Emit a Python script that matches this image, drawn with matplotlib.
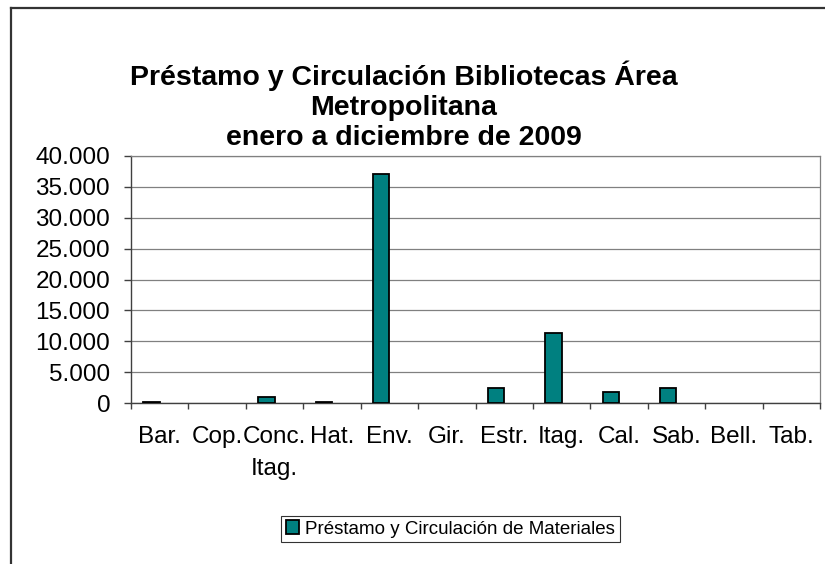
import matplotlib.pyplot as plt
import numpy as np
from matplotlib.lines import Line2D

plt.rcParams['font.family'] = ['Liberation Sans', 'DejaVu Sans']

# datos
bibliotecas = ['Bar.', 'Cop.', 'Conc.\nItag.', 'Hat.', 'Env.', 'Gir.',
               'Estr.', 'Itag.', 'Cal.', 'Sab.', 'Bell.', 'Tab.']
prestamo = [270, 0, 1000, 280, 37100, 0, 2550, 11300, 1900, 2550, 0, 0]
yticks = [0, 5000, 10000, 15000, 20000, 25000, 30000, 35000, 40000]
ylabels = ['0', '5.000', '10.000', '15.000', '20.000', '25.000',
           '30.000', '35.000', '40.000']

fig = plt.figure(figsize=(8.25, 5.64), dpi=100)
W, H = 825., 564.

# marco exterior (cortado a la derecha y abajo)
fig.add_artist(Line2D([10.5/W, 1], [1-7.5/H, 1-7.5/H], color='#333333', lw=1.6))
fig.add_artist(Line2D([10.5/W, 10.5/W], [0, 1-7.5/H], color='#333333', lw=1.6))

ax = fig.add_axes([131/W, 1-403.3/H, 689/W, 247.6/H])

x = np.arange(len(bibliotecas))
# los ceros no se dibujan (Excel no muestra barras vacias)
alturas = np.where(np.array(prestamo) > 0, prestamo, np.nan)
# ancho tipo Excel con dos series (la segunda vacia)
ax.bar(x - 0.143, alturas, width=0.286, color='#008080', edgecolor='black',
       linewidth=1.3, zorder=3, label='Préstamo y Circulación de Materiales')

ax.set_xlim(-0.5, len(bibliotecas) - 0.5)
ax.set_ylim(0, 40000)
ax.set_yticks(yticks)
ax.set_yticklabels(ylabels, fontsize=17.5)
ax.yaxis.grid(True, color='#808080', lw=0.9, zorder=0)

ax.set_xticks(np.arange(len(bibliotecas) + 1) - 0.5)
ax.set_xticklabels([])
ax.set_xticks(x, minor=True)
ax.set_xticklabels(bibliotecas, minor=True, fontsize=17.5, linespacing=1.6,
                   va='top')
ax.tick_params(axis='x', which='minor', length=0, pad=16)
ax.tick_params(axis='x', which='major', length=4.5, width=1, color='#404040')
ax.tick_params(axis='y', length=5, width=1, color='#404040', pad=10)

for s in ['top', 'right']:
    ax.spines[s].set_color('#808080')
    ax.spines[s].set_linewidth(0.9)
for s in ['left', 'bottom']:
    ax.spines[s].set_color('#404040')
    ax.spines[s].set_linewidth(1.0)

fig.text(404/W, 1-106/H,
         'Préstamo y Circulación Bibliotecas Área\nMetropolitana\nenero a diciembre de 2009',
         ha='center', va='center', fontsize=20.5, fontweight='bold', linespacing=1.2)

leg = fig.legend(loc='center', bbox_to_anchor=(450.5/W, 1-529/H), fontsize=13.5,
                 frameon=True, fancybox=False, shadow=False, handlelength=0.7,
                 handleheight=0.7, handletextpad=0.3, borderpad=0.25,
                 borderaxespad=0)
leg.get_frame().set_edgecolor('black')
leg.get_frame().set_linewidth(0.8)

plt.savefig('out.png', dpi=100)
plt.close()
